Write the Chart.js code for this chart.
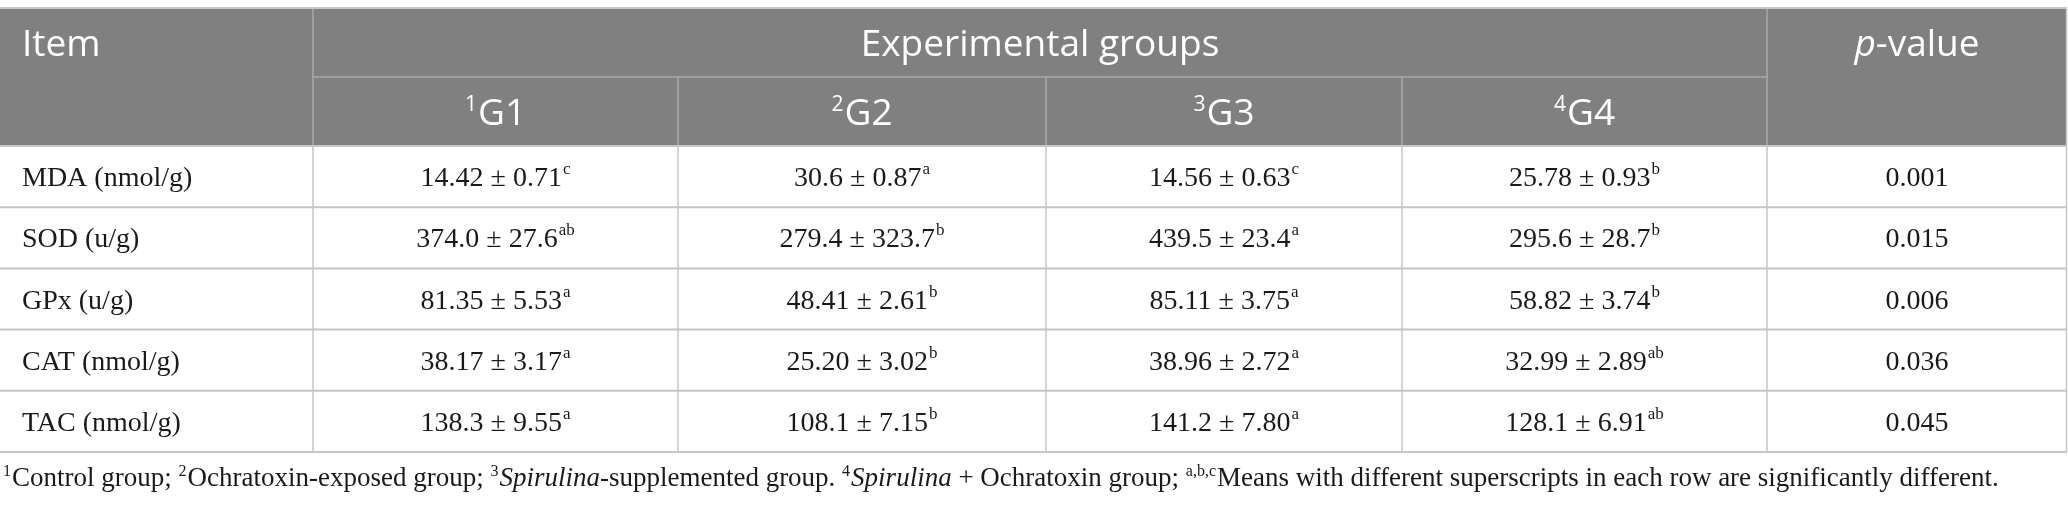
<!DOCTYPE html>
<html>
<head>
<meta charset="utf-8">
<script src="https://cdn.jsdelivr.net/npm/chart.js@4/dist/chart.umd.min.js"></script>
<style>
  html, body { margin: 0; background: #fff; }
  #wrap { width: 2068px; height: 509px; position: relative; }
</style>
</head>
<body>
<div id="wrap"><canvas id="table"></canvas></div>
<script>
// table content
const items = ['MDA (nmol/g)', 'SOD (u/g)', 'GPx (u/g)', 'CAT (nmol/g)', 'TAC (nmol/g)'];
const groupNames = ['G1', 'G2', 'G3', 'G4'];
const groupNotes = ['1', '2', '3', '4'];

const g1 = ['14.42 ± 0.71', '374.0 ± 27.6', '81.35 ± 5.53', '38.17 ± 3.17', '138.3 ± 9.55'];
const g1Sup = ['c', 'ab', 'a', 'a', 'a'];
const g2 = ['30.6 ± 0.87', '279.4 ± 323.7', '48.41 ± 2.61', '25.20 ± 3.02', '108.1 ± 7.15'];
const g2Sup = ['a', 'b', 'b', 'b', 'b'];
const g3 = ['14.56 ± 0.63', '439.5 ± 23.4', '85.11 ± 3.75', '38.96 ± 2.72', '141.2 ± 7.80'];
const g3Sup = ['c', 'a', 'a', 'a', 'a'];
const g4 = ['25.78 ± 0.93', '295.6 ± 28.7', '58.82 ± 3.74', '32.99 ± 2.89', '128.1 ± 6.91'];
const g4Sup = ['b', 'b', 'b', 'ab', 'ab'];
const pValues = ['0.001', '0.015', '0.006', '0.036', '0.045'];

const footnote = [
  ['sup', '1'], ['', 'Control group; '],
  ['sup', '2'], ['', 'Ochratoxin-exposed group; '],
  ['sup', '3'], ['it', 'Spirulina'], ['', '-supplemented group. '],
  ['sup', '4'], ['it', 'Spirulina'], ['', ' + Ochratoxin group; '],
  ['sup', 'a,b,c'], ['', 'Means with different superscripts in each row are significantly different.']
];

// layout (table units = css px)
const W = 2068, H = 509;
const colEdges = [0, 313, 678, 1046, 1402, 1767, 2067];
const tableTop = 8, headerMid = 77, headerBottom = 146, rowH = 61.2;
const footY = 486;
const HEADER_BG = '#7f807f';
const HEAD_LINE = '#a9a9a9';
const BODY_LINE = '#c6c6c6';
const SANS = '"Open Sans", sans-serif';
const SERIF = '"Liberation Serif", "Times New Roman", serif';

const groups = [[g1, g1Sup], [g2, g2Sup], [g3, g3Sup], [g4, g4Sup]];
const colMid = i => (colEdges[i] + colEdges[i + 1]) / 2;
const rowMid = r => headerBottom + rowH * (r + 0.5);

// one point per cell, placed through the scales
const cells = [];
cells.push({x: colEdges[0] + 22, y: (tableTop + headerMid) / 2, kind: 'head', align: 'left', text: 'Item'});
cells.push({x: (colEdges[1] + colEdges[5]) / 2, y: (tableTop + headerMid) / 2, kind: 'head', text: 'Experimental groups'});
cells.push({x: colMid(5), y: (tableTop + headerMid) / 2, kind: 'head', italicPre: 'p', text: '-value'});
groupNames.forEach((g, i) => {
  cells.push({x: colMid(i + 1), y: (headerMid + headerBottom) / 2, kind: 'head', pre: groupNotes[i], text: g});
});
items.forEach((it, r) => {
  cells.push({x: colEdges[0] + 22, y: rowMid(r), kind: 'body', align: 'left', text: it});
  groups.forEach(([vals, sups], i) => {
    cells.push({x: colMid(i + 1), y: rowMid(r), kind: 'body', text: vals[r], sup: sups[r]});
  });
  cells.push({x: colMid(5), y: rowMid(r), kind: 'body', text: pValues[r]});
});

function line(ctx, x1, y1, x2, y2, color, w) {
  ctx.strokeStyle = color;
  ctx.lineWidth = w;
  ctx.beginPath();
  ctx.moveTo(x1, y1);
  ctx.lineTo(x2, y2);
  ctx.stroke();
}

const tablePlugin = {
  id: 'tableGrid',
  beforeDatasetsDraw(chart) {
    const {ctx, scales: {x, y}} = chart;
    const px = v => x.getPixelForValue(v), py = v => y.getPixelForValue(v);
    const left = px(colEdges[0]), right = px(colEdges[6]);
    const bottom = py(headerBottom + rowH * items.length);
    ctx.save();
    ctx.fillStyle = '#fff';
    ctx.fillRect(0, 0, chart.width, chart.height);
    ctx.fillStyle = HEADER_BG;
    ctx.fillRect(left, py(tableTop), right - left, py(headerBottom) - py(tableTop));

    // header rules
    line(ctx, px(colEdges[1]), py(headerMid), px(colEdges[5]), py(headerMid), HEAD_LINE, 1.5);
    [1, 5].forEach(i => line(ctx, px(colEdges[i]), py(tableTop), px(colEdges[i]), py(headerBottom), HEAD_LINE, 1.5));
    [2, 3, 4].forEach(i => line(ctx, px(colEdges[i]), py(headerMid), px(colEdges[i]), py(headerBottom), HEAD_LINE, 1.5));
    line(ctx, left, py(tableTop), right, py(tableTop), BODY_LINE, 2);

    // body rules
    for (let r = 0; r <= items.length; r++) {
      const yy = py(headerBottom + rowH * r);
      line(ctx, left, yy, right, yy, BODY_LINE, 2);
    }
    [1, 2, 3, 4, 5].forEach(i => line(ctx, px(colEdges[i]), py(headerBottom), px(colEdges[i]), bottom, BODY_LINE, 1.5));
    line(ctx, right - 0.5, py(tableTop), right - 0.5, bottom, BODY_LINE, 1.5);
    ctx.restore();
  },
  afterDatasetsDraw(chart) {
    const {ctx, scales: {x, y}} = chart;
    const meta = chart.getDatasetMeta(0);
    const data = chart.data.datasets[0].data;
    ctx.save();
    ctx.textBaseline = 'alphabetic';
    ctx.textAlign = 'left';
    meta.data.forEach((pt, i) => {
      const c = data[i];
      if (c.kind === 'head') {
        const main = '400 37px ' + SANS, it = 'italic 400 37px ' + SANS, small = '400 21px ' + SANS;
        ctx.fillStyle = '#fff';
        ctx.font = main;
        const wMain = ctx.measureText(c.text).width;
        let wPre = 0, wIt = 0;
        if (c.pre) { ctx.font = small; wPre = ctx.measureText(c.pre).width + 1; }
        if (c.italicPre) { ctx.font = it; wIt = ctx.measureText(c.italicPre).width; }
        const total = wPre + wIt + wMain;
        let xx = c.align === 'left' ? pt.x : pt.x - total / 2;
        const base = pt.y + 13;
        if (c.pre) { ctx.font = small; ctx.fillText(c.pre, xx, base - 14); xx += wPre; }
        if (c.italicPre) { ctx.font = it; ctx.fillText(c.italicPre, xx, base); xx += wIt; }
        ctx.font = main;
        ctx.fillText(c.text, xx, base);
      } else {
        const main = '400 28px ' + SERIF, small = '400 17px ' + SERIF;
        ctx.fillStyle = '#1a1a1a';
        ctx.font = main;
        const wMain = ctx.measureText(c.text).width;
        let wSup = 0;
        if (c.sup) { ctx.font = small; wSup = ctx.measureText(c.sup).width + 1; }
        let xx = c.align === 'left' ? pt.x : pt.x - (wMain + wSup) / 2;
        const base = pt.y + 9.5;
        ctx.font = main;
        ctx.fillText(c.text, xx, base);
        if (c.sup) { ctx.font = small; ctx.fillText(c.sup, xx + wMain + 1, base - 12); }
      }
    });

    // footnote under the table
    let fx = x.getPixelForValue(3);
    const fy = y.getPixelForValue(footY);
    ctx.fillStyle = '#1a1a1a';
    footnote.forEach(([style, t]) => {
      if (style === 'sup') {
        ctx.font = '400 16px ' + SERIF;
        ctx.fillText(t, fx, fy - 10);
        fx += ctx.measureText(t).width + 1;
      } else {
        ctx.font = (style === 'it' ? 'italic ' : '') + '400 27px ' + SERIF;
        ctx.fillText(t, fx, fy);
        fx += ctx.measureText(t).width;
      }
    });
    ctx.restore();
  }
};

document.fonts.load('37px "Open Sans"').then(() => document.fonts.load('italic 37px "Open Sans"')).finally(() => {
  new Chart(document.getElementById('table'), {
    type: 'scatter',
    data: {
      datasets: [{
        data: cells,
        pointRadius: 0,
        pointHoverRadius: 0,
        showLine: false
      }]
    },
    options: {
      responsive: true,
      maintainAspectRatio: false,
      animation: false,
      events: [],
      layout: {padding: 0},
      plugins: {legend: {display: false}, tooltip: {enabled: false}},
      scales: {
        x: {type: 'linear', display: false, min: 0, max: W},
        y: {type: 'linear', display: false, min: 0, max: H, reverse: true}
      }
    },
    plugins: [tablePlugin]
  });
});
</script>
</body>
</html>
